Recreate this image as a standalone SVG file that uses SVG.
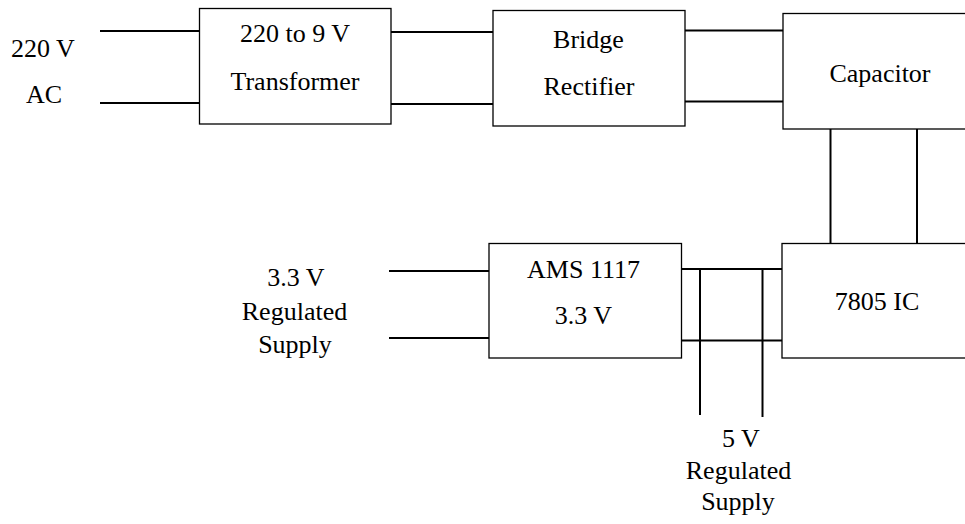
<svg xmlns="http://www.w3.org/2000/svg" width="965" height="524" viewBox="0 0 965 524">
<style>
.box{fill:#fff;stroke:#000;stroke-width:1.3}
.w{stroke:#000;stroke-width:2;fill:none}
text{font-family:"Liberation Serif","Times New Roman",serif;font-size:26px;fill:#000;text-anchor:middle}
</style>
<rect width="965" height="524" fill="#fff"/>
<g id="connectors">
<line class="w" x1="100" y1="31" x2="199" y2="31"/>
<line class="w" x1="100" y1="103" x2="199" y2="103"/>
<line class="w" x1="391" y1="32" x2="493" y2="32"/>
<line class="w" x1="391" y1="104" x2="493" y2="104"/>
<line class="w" x1="685" y1="30.5" x2="783" y2="30.5"/>
<line class="w" x1="685" y1="101.5" x2="783" y2="101.5"/>
<line class="w" x1="830.5" y1="129" x2="830.5" y2="243"/>
<line class="w" x1="917" y1="129" x2="917" y2="243"/>
<line class="w" x1="389" y1="271" x2="489" y2="271"/>
<line class="w" x1="389" y1="338" x2="489" y2="338"/>
<line class="w" x1="681.5" y1="269" x2="782" y2="269"/>
<line class="w" x1="681.5" y1="340.5" x2="782" y2="340.5"/>
<line class="w" x1="700" y1="269" x2="700" y2="415"/>
<line class="w" x1="762.5" y1="269" x2="762.5" y2="417"/>
</g>
<g id="transformer">
<rect class="box" x="199.5" y="8.5" width="191.5" height="115.5"/>
<text x="295" y="42">220 to 9 V</text>
<text x="295" y="90">Transformer</text>
</g>
<g id="bridge">
<rect class="box" x="493" y="10.5" width="192" height="115.5"/>
<text x="588.5" y="47.5">Bridge</text>
<text x="589" y="95">Rectifier</text>
</g>
<g id="capacitor">
<rect class="box" x="783" y="13.5" width="200" height="115.5"/>
<text x="880" y="82">Capacitor</text>
</g>
<g id="ams1117">
<rect class="box" x="489" y="243.5" width="192.5" height="114.5"/>
<text x="583.5" y="277.5">AMS 1117</text>
<text x="583.5" y="324">3.3 V</text>
</g>
<g id="ic7805">
<rect class="box" x="782" y="243.5" width="200" height="114.5"/>
<text x="877" y="310">7805 IC</text>
</g>
<g id="ac-input">
<text x="43" y="57">220 V</text>
<text x="44" y="103">AC</text>
</g>
<g id="out33">
<text x="296" y="286">3.3 V</text>
<text x="294.5" y="320">Regulated</text>
<text x="295" y="353">Supply</text>
</g>
<g id="out5">
<text x="741" y="447">5 V</text>
<text x="738.5" y="479">Regulated</text>
<text x="738" y="510">Supply</text>
</g>
</svg>
